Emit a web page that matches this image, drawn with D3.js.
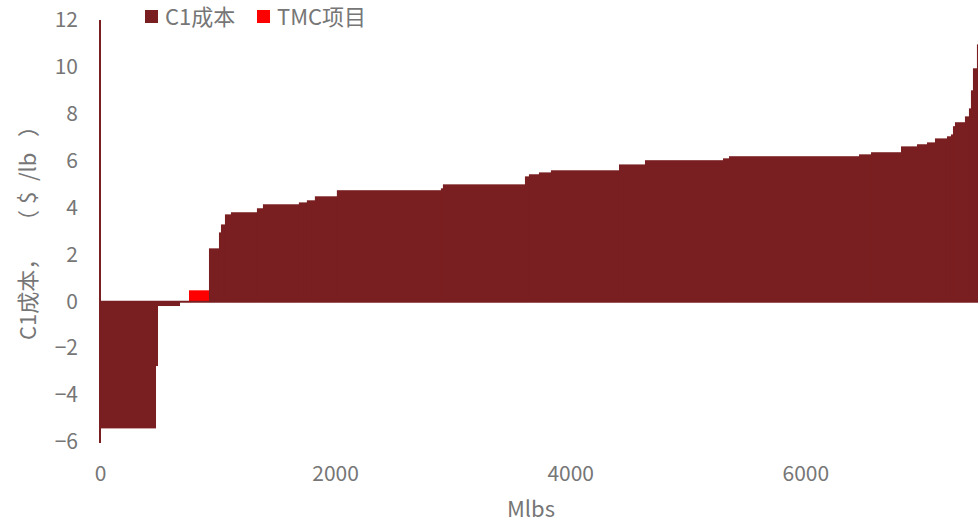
<!DOCTYPE html>
<html>
<head>
<meta charset="utf-8">
<script src="https://cdn.jsdelivr.net/npm/d3@7"></script>
<style>
  body { margin: 0; background: #fff; }
  text { font-family: "Noto Sans CJK SC", "Noto Sans", sans-serif; fill: #767676; }
</style>
</head>
<body>
<div id="chart"></div>
<script>
// capacity of each producer (Mlbs) and its C1 cost ($/lb), sorted by cost
const capacity = [468, 17, 187, 85, 170, 85, 17, 34, 51, 221, 51, 306, 68, 68, 187, 885, 17, 698, 34, 85,
  102, 579, 221, 664, 51, 1106, 102, 255, 136, 85, 68, 102, 34, 17, 17, 85, 34, 17, 17, 34, 9]
const c1Cost = [-5.42, -2.76, -0.2, 0, 0.47, 2.26, 2.94, 3.28, 3.71, 3.8, 3.97, 4.14, 4.22, 4.31, 4.48, 4.74, 4.82, 4.99, 5.33, 5.42,
  5.5, 5.59, 5.84, 6.02, 6.1, 6.19, 6.27, 6.36, 6.61, 6.7, 6.78, 6.95, 7.04, 7.12, 7.47, 7.64, 7.89, 8.23, 9.0, 9.94, 10.96]
const tmcIndex = 4
const seriesNames = ['C1成本', 'TMC项目']
const yTicks = [-6, -4, -2, 0, 2, 4, 6, 8, 10, 12]
const xTicks = [0, 2000, 4000, 6000]

const width = 978
const height = 524
const margin = { top: 20, right: 0, bottom: 82, left: 100 }
const colors = ['#7a1f21', '#ff0000']

let cum = 0
const data = capacity.map(function(w, i) {
  const d = { x0: cum, x1: cum + w, cost: c1Cost[i], tmc: i === tmcIndex }
  cum += w
  return d
})

const xScale = d3.scaleLinear().domain([0, cum]).range([margin.left, width - margin.right])
const yScale = d3.scaleLinear().domain([-6, 12]).range([height - margin.bottom, margin.top])

const svg = d3.select('#chart').append('svg').attr('width', width).attr('height', height)

// bars overlap by a pixel so no seams show; the next (higher) bar covers it
svg.selectAll('rect.bar').data(data)
  .enter()
  .append('rect')
  .attr('class', 'bar')
  .attr('x', function(d) { return xScale(d.x0) })
  .attr('width', function(d, i) {
    const extra = i < data.length - 1 && !data[i + 1].tmc ? 1 : 0
    return xScale(d.x1) - xScale(d.x0) + extra
  })
  .attr('y', function(d) { return yScale(Math.max(0, d.cost)) })
  .attr('height', function(d) { return Math.abs(yScale(d.cost) - yScale(0)) })
  .attr('fill', function(d) { return d.tmc ? colors[1] : colors[0] })

// axis lines drawn in the series colour
svg.append('line')
  .attr('x1', xScale(0)).attr('x2', xScale(cum))
  .attr('y1', yScale(0) + 0.5).attr('y2', yScale(0) + 0.5)
  .attr('stroke', colors[0]).attr('stroke-width', 2)
svg.append('line')
  .attr('x1', xScale(0)).attr('x2', xScale(0))
  .attr('y1', yScale(12)).attr('y2', yScale(-6) + 1)
  .attr('stroke', colors[0]).attr('stroke-width', 2)

const yAxis = d3.axisLeft(yScale).tickValues(yTicks).tickSize(0).tickPadding(22)
const xAxis = d3.axisBottom(xScale).tickValues(xTicks).tickFormat(d3.format('d')).tickSize(0).tickPadding(24)

const gy = svg.append('g').attr('transform', 'translate(' + margin.left + ',0)').call(yAxis)
const gx = svg.append('g').attr('transform', 'translate(0,' + (height - margin.bottom) + ')').call(xAxis)
gy.select('.domain').remove()
gx.select('.domain').remove()
svg.selectAll('.tick text').attr('font-size', 21).attr('fill', '#767676')
  .style('font-family', '"Noto Sans CJK SC", "Noto Sans", sans-serif')

svg.append('text')
  .attr('x', 531).attr('y', 517)
  .attr('text-anchor', 'middle')
  .attr('font-size', 22)
  .text('Mlbs')

// y title, pieces spaced out like the original
const yTitle = svg.append('text')
  .attr('transform', 'translate(36,0) rotate(-90)')
  .attr('font-size', 22)
const titleParts = [['C1成本，', 340], ['（', 232], ['$', 204], ['/lb', 181], ['）', 137]]
titleParts.forEach(function(p) {
  yTitle.append('tspan').attr('x', -p[1]).attr('y', 0).text(p[0])
})

// legend
const legendX = [145, 257]
seriesNames.forEach(function(name, i) {
  svg.append('rect')
    .attr('x', legendX[i]).attr('y', 10)
    .attr('width', 13).attr('height', 13)
    .attr('fill', colors[i])
  svg.append('text')
    .attr('x', legendX[i] + 20).attr('y', 25)
    .attr('font-size', 22)
    .text(name)
})
</script>
</body>
</html>
